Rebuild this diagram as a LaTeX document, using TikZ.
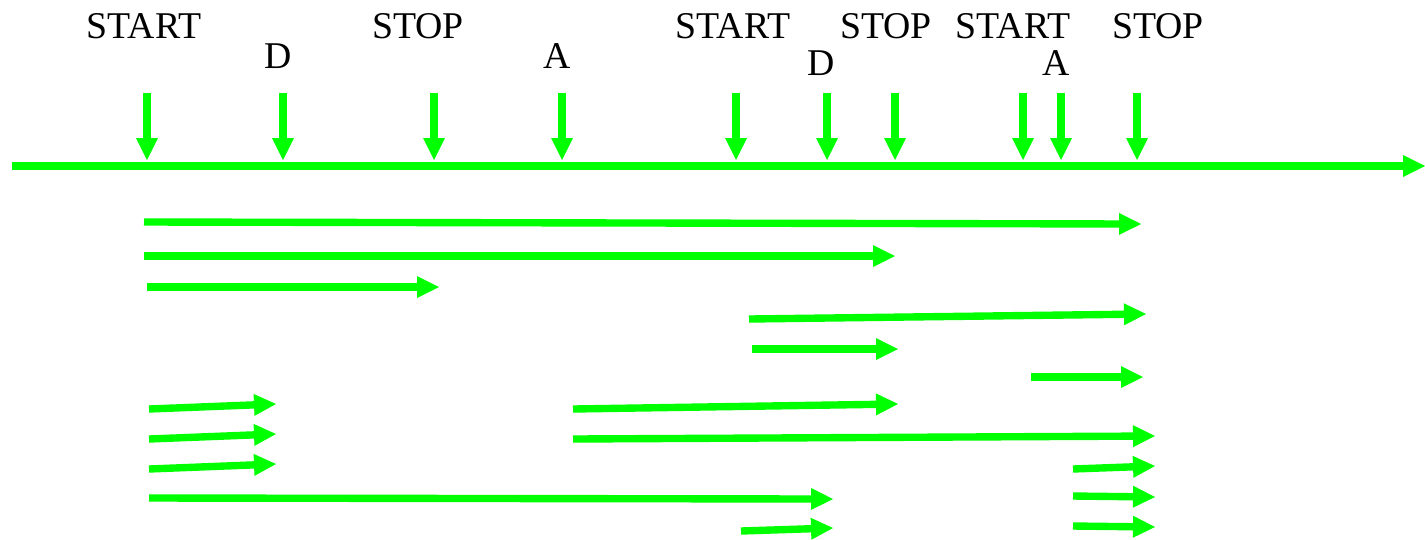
\documentclass[tikz,border=0pt]{standalone}
\usepackage{fontspec}
\setmainfont{Liberation Serif}
\usetikzlibrary{arrows.meta}
\definecolor{evgreen}{RGB}{0,255,0}
\tikzset{
  flow/.style={draw=evgreen, line width=4.2pt,
    -{Triangle[length=0.44cm, width=0.44cm, line width=0pt]}},
  evname/.style={anchor=base, inner sep=0pt, font=\fontsize{21.5}{26}\selectfont}
}

\begin{document}
\begin{tikzpicture}[x=0.02cm, y=-0.02cm]
	\useasboundingbox (0,0) rectangle (1425,539);
	% time axis
	\coordinate (axisL) at (12,166);
	\coordinate (axisR) at (1425,166);
	\draw[flow] (axisL) -- (axisR);
	% events falling onto the axis
	\foreach \x [count=\i] in {147, 283, 434, 562, 736, 827, 895, 1023, 1061, 1137}{
			\coordinate (mark\i) at (\x,93);
			\coordinate (hit\i) at (\x,160);
			\draw[flow] (mark\i) -- (hit\i);
		}
	% event names
	\foreach \x/\y/\t [count=\i] in {144/38/START, 278/68/D, 418/38/STOP, 557/68/A,
			733/38/START, 821/75/D, 886/38/STOP, 1013/38/START, 1056/75/A, 1158/38/STOP}{
			\node[evname] (name\i) at (\x,\y) {\t};
		}
	% spans
	\foreach \xa/\ya/\xb/\yb [count=\i] in {
			144/222/1141/224, 144/256/895/256, 147/287/439/287,
			749/319/1146/314, 752/349/898/349, 1031/377/1143/377,
			149/409/276/404, 149/439/276/434, 149/469/276/464,
			149/498/833/499, 573/409/898/404, 573/439/1155/436,
			1073/469/1155/466, 1073/496/1155/497, 1073/526/1155/527,
			741/531/833/528}{
			\coordinate (from\i) at (\xa,\ya);
			\coordinate (to\i) at (\xb,\yb);
			\draw[flow] (from\i) -- (to\i);
		}
\end{tikzpicture}
\end{document}
